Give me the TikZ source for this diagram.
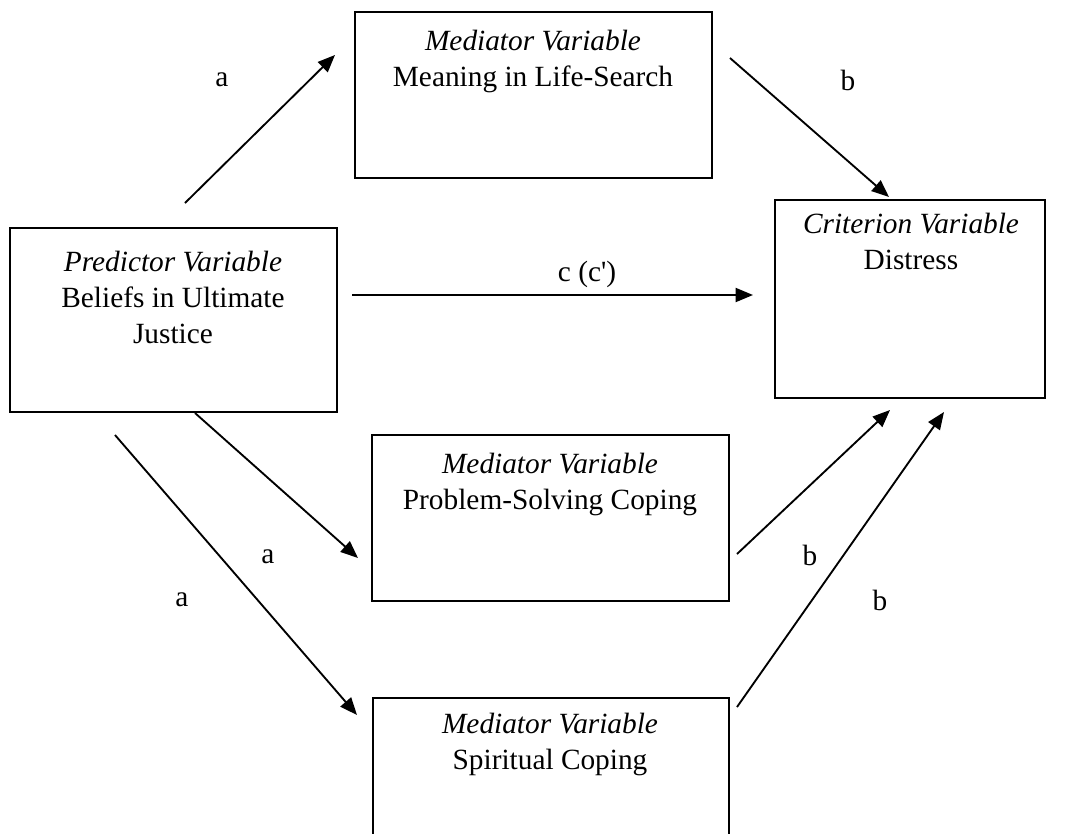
\documentclass[tikz,border=0pt]{standalone}
\usepackage{fontspec}
\setmainfont{Liberation Serif}
\usetikzlibrary{arrows.meta}
\begin{document}
\begin{tikzpicture}[x=0.75pt,y=-0.75pt,
  boxst/.style={draw=black,line width=1.4pt},
  txt/.style={align=center,font=\fontsize{22}{27}\selectfont,inner sep=0pt},
  lbl/.style={font=\fontsize{22}{27}\selectfont,inner sep=0pt},
  arr/.style={line width=1.4pt,-{Triangle[length=13pt,width=10.5pt]}}]
\useasboundingbox (0,0) rectangle (1090,833);
\clip (0,0) rectangle (1090,833);
% boxes
\draw[boxst] (355,12) rectangle (712,178);
\draw[boxst] (10,228) rectangle (337,412);
\draw[boxst] (775,200) rectangle (1045,398);
\draw[boxst] (372,435) rectangle (729,601);
\draw[boxst] (373,698) rectangle (729,845);
% texts
\node[txt] (med1) at (533,61) {\textit{Mediator Variable}\\Meaning in Life-Search};
\node[txt] (pred) at (173,297) {\textit{Predictor Variable}\\Beliefs in Ultimate\\Justice};
\node[txt] (crit) at (911,241) {\textit{Criterion Variable}\\Distress};
\node[txt] (med2) at (550,484) {\textit{Mediator Variable}\\Problem-Solving Coping};
\node[txt] (med3) at (550,744) {\textit{Mediator Variable}\\Spiritual Coping};
% arrow endpoints
\coordinate (a1s) at (185,203); \coordinate (a1e) at (335,55);
\coordinate (b1s) at (730,58); \coordinate (b1e) at (889,197);
\coordinate (cs) at (352,295); \coordinate (ce) at (753,295);
\coordinate (a2s) at (195,413); \coordinate (a2e) at (358,558);
\coordinate (a3s) at (115,435); \coordinate (a3e) at (357,715);
\coordinate (b2s) at (737,554); \coordinate (b2e) at (890,410);
\coordinate (b3s) at (737,707); \coordinate (b3e) at (944,412);
\draw[arr] (a1s) -- (a1e);
\draw[arr] (b1s) -- (b1e);
\draw[arr] (cs) -- (ce);
\draw[arr] (a2s) -- (a2e);
\draw[arr] (a3s) -- (a3e);
\draw[arr] (b2s) -- (b2e);
\draw[arr] (b3s) -- (b3e);
% labels
\node[lbl] (la1) at (222,80) {a};
\node[lbl] (lb1) at (848,80) {b};
\node[lbl] (lc) at (587,274) {c (c\textquotesingle)};
\node[lbl] (la2) at (268,557) {a};
\node[lbl] (la3) at (182,600) {a};
\node[lbl] (lb2) at (810,555) {b};
\node[lbl] (lb3) at (880,600) {b};
\end{tikzpicture}
\end{document}
